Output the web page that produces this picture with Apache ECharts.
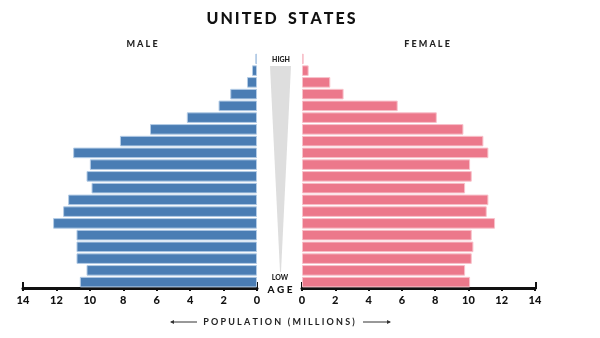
<!DOCTYPE html>
<html><head><meta charset="utf-8">
<script src="https://cdn.jsdelivr.net/npm/echarts@6/dist/echarts.min.js"></script>
<style>html,body{margin:0;padding:0;background:#fff}#c{width:600px;height:338px}</style>
</head><body><div id="c"></div>
<script>
var ageGroups = ["0-4","5-9","10-14","15-19","20-24","25-29","30-34","35-39","40-44","45-49","50-54","55-59","60-64","65-69","70-74","75-79","80-84","85-89","90-94","95-99"];
var male = [10.6,10.2,10.8,10.8,10.8,12.2,11.6,11.3,9.9,10.2,10.0,11.0,8.2,6.4,4.2,2.3,1.6,0.6,0.3,0.1];
var female = [10.1,9.8,10.2,10.3,10.2,11.6,11.1,11.2,9.8,10.2,10.1,11.2,10.9,9.7,8.1,5.75,2.5,1.7,0.4,0.1];
var ticks = [0,2,4,6,8,10,12,14];

var chart = echarts.init(document.getElementById('c'), null, {renderer:'canvas'});
var F = 'Lato, "DejaVu Sans", sans-serif';
function sp(s, sep){ return s.split('').join(sep); }
function xAx(idx, inv){
  return {gridIndex: idx, type:'value', min:0, max:14, interval:2, inverse: inv,
    axisLine:{show:true, lineStyle:{color:'#111', width:3}},
    axisTick:{show:true, length:3, lineStyle:{color:'#111', width:2}},
    axisLabel:{color:'#111', fontFamily:F, fontWeight:900, fontSize:11, margin:7},
    splitLine:{show:false}};
}
function yAx(idx){
  return {gridIndex: idx, type:'category', data: ageGroups, show:false, boundaryGap:true};
}
chart.setOption({
  animation:false,
  grid:[{left:23, right:343, top:53, bottom:50},{left:302, right:65, top:53, bottom:50}],
  xAxis:[xAx(0,true), xAx(1,false)],
  yAxis:[yAx(0), yAx(1)],
  series:[
    {type:'bar', xAxisIndex:0, yAxisIndex:0, data: male, barCategoryGap:'10%',
     itemStyle:{color:'#4a7db4', borderColor:'#b4cce6', borderWidth:1}},
    {type:'bar', xAxisIndex:1, yAxisIndex:1, data: female, barCategoryGap:'10%',
     itemStyle:{color:'#ec788b', borderColor:'#f8c2cb', borderWidth:1}}
  ],
  graphic:[
    {type:'text', style:{text:sp('UNITED','\u2009') + '   ' + sp('STATES','\u2009'), x:281, y:19, align:'center', verticalAlign:'middle', fontFamily:F, fontWeight:900, fontSize:16, fill:'#111'}},
    {type:'text', style:{text:'M A L E', x:142, y:44, align:'center', verticalAlign:'middle', fontFamily:F, fontWeight:900, fontSize:9, fill:'#222'}},
    {type:'text', style:{text:'F E M A L E', x:427, y:44, align:'center', verticalAlign:'middle', fontFamily:F, fontWeight:900, fontSize:9, fill:'#222'}},
    {type:'polygon', shape:{points:[[270,66],[291,66],[281,272],[280,272]]}, style:{fill:'#dedede'}},
    {type:'text', style:{text:'HIGH', x:281, y:60, align:'center', verticalAlign:'middle', fontFamily:F, fontWeight:900, fontSize:7, fill:'#222'}},
    {type:'text', style:{text:'LOW', x:280, y:278, align:'center', verticalAlign:'middle', fontFamily:F, fontWeight:900, fontSize:7, fill:'#222'}},
    {type:'text', style:{text:'A G E', x:280, y:290, align:'center', verticalAlign:'middle', fontFamily:F, fontWeight:900, fontSize:10, fill:'#111'}},
    {type:'line', shape:{x1:23,y1:282,x2:23,y2:289}, style:{stroke:'#111', lineWidth:2}},
    {type:'line', shape:{x1:257,y1:282,x2:257,y2:289}, style:{stroke:'#111', lineWidth:2}},
    {type:'line', shape:{x1:302,y1:282,x2:302,y2:289}, style:{stroke:'#111', lineWidth:2}},
    {type:'line', shape:{x1:536,y1:282,x2:536,y2:289}, style:{stroke:'#111', lineWidth:2}},
    {type:'text', style:{text:'P O P U L A T I O N   ( M I L L I O N S )', x:279, y:322, align:'center', verticalAlign:'middle', fontFamily:F, fontWeight:700, fontSize:9, fill:'#222'}},
    {type:'line', shape:{x1:171,y1:322,x2:197,y2:322}, style:{stroke:'#333', lineWidth:1}},
    {type:'polygon', shape:{points:[[170,322],[174,320],[174,324]]}, style:{fill:'#333'}},
    {type:'line', shape:{x1:363,y1:322,x2:390,y2:322}, style:{stroke:'#333', lineWidth:1}},
    {type:'polygon', shape:{points:[[391,322],[387,320],[387,324]]}, style:{fill:'#333'}}
  ]
});
</script></body></html>
